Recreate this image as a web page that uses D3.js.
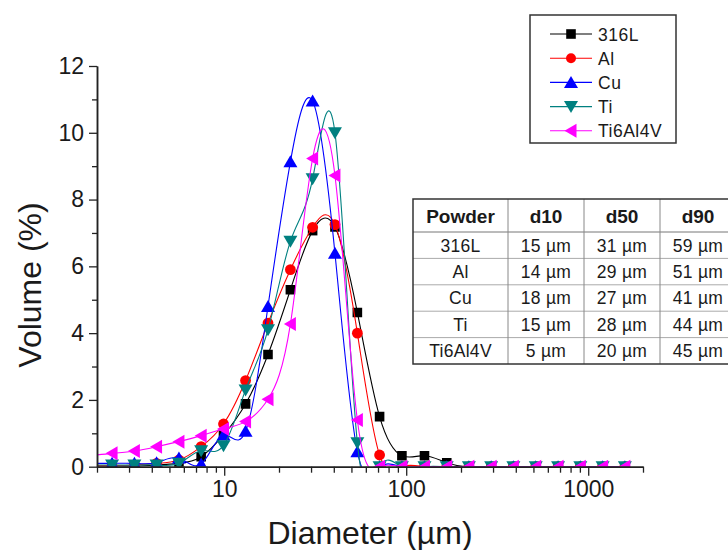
<!DOCTYPE html>
<html>
<head>
<meta charset="utf-8">
<script src="https://cdn.jsdelivr.net/npm/d3@7"></script>
<style>
body { margin: 0; background: #fff; }
svg text { font-family: "Liberation Sans", Arial, sans-serif; fill: #1a1a1a; }
</style>
</head>
<body>
<svg id="chart" width="728" height="550"></svg>
<script>
// particle size classes (µm)
const sizes = [1.82, 2.42, 3.21, 4.25, 5.64, 7.47, 9.91, 13.1, 17.4, 23.1, 30.6, 40.6, 53.9,
	71.4, 94.7, 126, 167, 221, 293, 388, 515, 683, 905, 1200, 1590];

// volume (%) per class
const vol316L   = [0.02, 0.02, 0.02, 0.05, 0.1, 0.3, 0.95, 1.88, 3.36, 5.3, 7.07, 7.18, 4.62,
	1.5, 0.33, 0.33, 0.12, 0, 0, 0, 0, 0, 0, 0, 0];
const volAl     = [0.02, 0.03, 0.05, 0.1, 0.2, 0.6, 1.28, 2.58, 4.3, 5.9, 7.17, 7.25, 4.0,
	0.35, 0, 0, 0, 0, 0, 0, 0, 0, 0, 0, 0];
const volCu     = [0.1, 0.1, 0.1, 0.12, 0.26, 0.08, 0.95, 1.06, 4.8, 9.13, 10.95, 6.39, 0.45,
	0, 0, 0, 0, 0, 0, 0, 0, 0, 0, 0, 0];
const volTi     = [0.05, 0.05, 0.05, 0.05, 0.1, 0.48, 0.63, 2.3, 4.1, 6.75, 8.62, 10.0, 0.72,
	0, 0, 0, 0, 0, 0, 0, 0, 0, 0, 0, 0];
const volTi6Al4V = [0.33, 0.4, 0.47, 0.6, 0.75, 0.93, 1.13, 1.35, 2.02, 4.27, 9.23, 8.72, 1.4,
	0, 0, 0, 0, 0, 0, 0, 0, 0, 0, 0, 0];

const seriesNames = ['316L', 'Al', 'Cu', 'Ti', 'Ti6Al4V'];
const seriesValues = [vol316L, volAl, volCu, volTi, volTi6Al4V];
const colors = ['#000000', '#ff0000', '#0000ff', '#008080', '#ff00ff'];
const markers = ['square', 'circle', 'up', 'down', 'left'];

const xMajor = [10, 100, 1000];
const xMinor = [2, 3, 4, 5, 6, 7, 8, 9, 20, 30, 40, 50, 60, 70, 80, 90,
	200, 300, 400, 500, 600, 700, 800, 900, 2000];
const yMajor = [0, 2, 4, 6, 8, 10, 12];
const yMinor = [1, 3, 5, 7, 9, 11];

const tableHeader = ['Powder', 'd10', 'd50', 'd90'];
const tableRows = [
	['316L', '15 µm', '31 µm', '59 µm'],
	['Al', '14 µm', '29 µm', '51 µm'],
	['Cu', '18 µm', '27 µm', '41 µm'],
	['Ti', '15 µm', '28 µm', '44 µm'],
	['Ti6Al4V', '5 µm', '20 µm', '45 µm']
];

const svg = d3.select('#chart');

const plotLeft = 97, plotRight = 643, plotTop = 66, plotBottom = 466.7;

const x = d3.scaleLog().domain([2, 2000]).range([plotLeft, plotRight]);
const y = d3.scaleLinear().domain([0, 12]).range([plotBottom, plotTop]);

const markerPath = type => {
	if (type === 'square') return 'M-4.8,-4.8H4.8V4.8H-4.8Z';
	if (type === 'up') return 'M0,-6.5L7,5.5L-7,5.5Z';
	if (type === 'down') return 'M0,6.5L7,-5.5L-7,-5.5Z';
	if (type === 'left') return 'M-6.5,0L5.5,-7L5.5,7Z';
	return null;
};

svg.append('clipPath').attr('id', 'plot-clip')
	.append('rect')
	.attr('x', plotLeft).attr('y', 0)
	.attr('width', plotRight - plotLeft).attr('height', plotBottom);

const plot = svg.append('g').attr('clip-path', 'url(#plot-clip)');

// smooth spline through the points
const line = d3.line()
	.x(d => x(d[0]))
	.y(d => y(d[1]))
	.curve(d3.curveNatural);

seriesNames.forEach((name, s) => {
	const pts = sizes.map((sz, i) => [sz, seriesValues[s][i]]);
	const g = plot.append('g').attr('class', 'series');

	g.append('path')
		.attr('d', line(pts))
		.attr('fill', 'none')
		.attr('stroke', colors[s])
		.attr('stroke-width', 1.1);

	const m = g.selectAll('.mk')
		.data(pts)
		.enter().append('g')
			.attr('transform', d => `translate(${x(d[0])},${y(d[1])})`);

	if (markers[s] === 'circle') {
		m.append('circle').attr('r', 5.4).attr('fill', colors[s]);
	} else {
		m.append('path').attr('d', markerPath(markers[s])).attr('fill', colors[s]);
	}
});

// axes
const styleAxis = g => {
	g.attr('font-family', null).attr('font-size', null);
	g.selectAll('path.domain').attr('stroke', '#222').attr('stroke-width', 1.5);
	g.selectAll('.tick line').attr('stroke', '#222').attr('stroke-width', 1.3);
	g.selectAll('.tick text')
		.style('font-size', '23px')
		.attr('fill', '#1a1a1a');
};

svg.append('g')
	.attr('transform', `translate(0,${plotBottom})`)
	.call(d3.axisBottom(x).tickValues(xMinor).tickSize(6).tickSizeOuter(0).tickFormat(''))
	.call(styleAxis);

svg.append('g')
	.attr('transform', `translate(0,${plotBottom})`)
	.call(d3.axisBottom(x).tickValues(xMajor).tickSize(9).tickSizeOuter(0).tickPadding(5).tickFormat(d3.format('d')))
	.call(styleAxis);

svg.append('g')
	.attr('transform', `translate(${plotLeft},0)`)
	.call(d3.axisLeft(y).tickValues(yMinor).tickSize(5).tickSizeOuter(0).tickFormat(''))
	.call(styleAxis);

svg.append('g')
	.attr('transform', `translate(${plotLeft},0)`)
	.call(d3.axisLeft(y).tickValues(yMajor).tickSize(8).tickSizeOuter(0).tickPadding(5).tickFormat(d3.format('d')))
	.call(styleAxis);

// axis titles
svg.append('text')
	.attr('x', (plotLeft + plotRight) / 2)
	.attr('y', 544)
	.attr('text-anchor', 'middle')
	.style('font-size', '32px')
	.text('Diameter (µm)');

svg.append('text')
	.attr('transform', 'translate(41,285) rotate(-90)')
	.attr('text-anchor', 'middle')
	.style('font-size', '32px')
	.text('Volume (%)');

// legend
const legend = svg.append('g').attr('transform', 'translate(530,15)');
legend.append('rect')
	.attr('width', 146).attr('height', 128)
	.attr('fill', '#fff')
	.attr('stroke', '#333')
	.attr('stroke-width', 1.5);

const item = legend.selectAll('.item')
	.data(seriesNames)
	.enter().append('g')
		.attr('transform', (d, i) => `translate(0,${19 + i * 24.2})`);

item.append('line')
	.attr('x1', 20).attr('x2', 62)
	.attr('stroke', (d, i) => colors[i])
	.attr('stroke-width', 1.1);

item.each(function(d, i) {
	const g = d3.select(this).append('g').attr('transform', 'translate(41,0)');
	if (markers[i] === 'circle') g.append('circle').attr('r', 5).attr('fill', colors[i]);
	else g.append('path').attr('d', markerPath(markers[i])).attr('fill', colors[i]);
});

item.append('text')
	.attr('x', 68)
	.attr('y', 6.5)
	.style('font-size', '17.5px')
	.style('letter-spacing', '0.5px')
	.text(d => d);

// table of d10 / d50 / d90
const colX = [413, 508, 584, 660, 736];
const rowY = [199, 232, 258.4, 284.8, 311.2, 337.6, 364];
const table = svg.append('g').attr('class', 'table');

table.append('rect')
	.attr('x', colX[0]).attr('y', rowY[0])
	.attr('width', colX[4] - colX[0]).attr('height', rowY[6] - rowY[0])
	.attr('fill', '#fff');

table.selectAll('.hl')
	.data(rowY.slice(1, -1))
	.enter().append('line')
		.attr('x1', colX[0]).attr('x2', colX[4])
		.attr('y1', d => d).attr('y2', d => d)
		.attr('stroke', (d, i) => i === 0 ? '#777' : '#aaa')
		.attr('stroke-width', 1);

table.selectAll('.vl')
	.data(colX.slice(1, -1))
	.enter().append('line')
		.attr('x1', d => d).attr('x2', d => d)
		.attr('y1', rowY[0]).attr('y2', rowY[6])
		.attr('stroke', '#888')
		.attr('stroke-width', 1);

table.append('rect')
	.attr('x', colX[0]).attr('y', rowY[0])
	.attr('width', colX[4] - colX[0]).attr('height', rowY[6] - rowY[0])
	.attr('fill', 'none')
	.attr('stroke', '#333')
	.attr('stroke-width', 1.5);

table.selectAll('.th')
	.data(tableHeader)
	.enter().append('text')
		.attr('x', (d, i) => (colX[i] + colX[i + 1]) / 2)
		.attr('y', (rowY[0] + rowY[1]) / 2 + 7)
		.attr('text-anchor', 'middle')
		.style('font-size', '19px')
		.style('font-weight', 'bold')
		.text(d => d);

tableRows.forEach((row, r) => {
	table.selectAll(`.td${r}`)
		.data(row)
		.enter().append('text')
			.attr('x', (d, i) => (colX[i] + colX[i + 1]) / 2)
			.attr('y', (rowY[r + 1] + rowY[r + 2]) / 2 + 6.3)
			.attr('text-anchor', 'middle')
			.style('font-size', '17.5px')
			.style('letter-spacing', '0.3px')
			.text(d => d);
});
</script>
</body>
</html>
